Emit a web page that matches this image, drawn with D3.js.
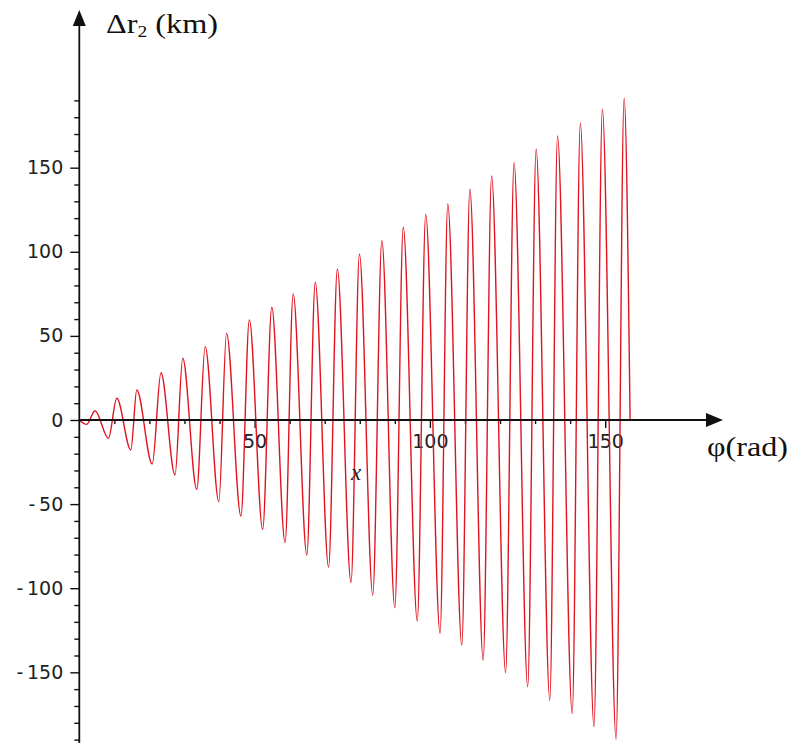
<!DOCTYPE html>
<html>
<head>
<meta charset="utf-8">
<script src="https://cdn.jsdelivr.net/npm/d3@7"></script>
<style>
  body { margin: 0; background: #fff; }
  svg { display: block; }
</style>
</head>
<body>
<script>
// extrema of the curve (phi in rad, dr in km)
var phiPts = [0, 2.1, 4.5, 8.3, 10.7, 14.7, 16.4, 20.8, 23.3, 27.3, 29.5,
  33.5, 35.9, 39.8, 42.0, 46.1, 48.5, 52.3, 54.9, 58.7, 61.0, 64.9, 67.3,
  71.1, 73.6, 77.5, 79.9, 83.7, 86.3, 90.0, 92.4, 96.4, 98.8, 102.9, 105.1,
  109.1, 111.4, 115.2, 117.6, 121.6, 124.0, 127.9, 130.3, 134.2, 136.4,
  140.6, 142.9, 146.8, 149.2, 153.1, 155.4, 157.1];
var drPts = [0, -2.6, 5.5, -10.9, 12.9, -17.8, 17.8, -26.2, 28.1, -32.7, 36.7,
  -41.2, 43.6, -48.6, 51.5, -57.1, 59.5, -65.0, 67.0, -72.9, 75.0, -80.3, 81.9,
  -87.6, 89.8, -96.7, 98.7, -104.0, 106.6, -111.6, 114.6, -119.5, 122.3, -126.8, 128.4,
  -133.8, 137.2, -142.7, 145.1, -150.2, 153.0, -158.6, 161.0, -166.5, 168.8,
  -174.4, 176.4, -182.3, 184.7, -189.8, 191.3, 0];

var xMajor = [50, 100, 150];
var xMinor = [10, 20, 30, 40, 60, 70, 80, 90, 110, 120, 130, 140];
var yMajor = [-150, -100, -50, 0, 50, 100, 150];
var yMinor = [-190, -180, -170, -160, -140, -130, -120, -110, -90, -80, -70, -60,
  -40, -30, -20, -10, 10, 20, 30, 40, 60, 70, 80, 90, 110, 120, 130, 140, 160, 170, 180, 190];

var width = 792;
var height = 743;

var svg = d3.select("body")
  .append("svg")
  .attr("width", width)
  .attr("height", height);

var x = d3.scaleLinear().domain([0, 150]).range([79.3, 605.2]);
var y = d3.scaleLinear().domain([-190, 190]).range([739.6, 100.4]);

var tickFont = "'DejaVu Sans', Verdana, sans-serif";
var serif = "'Liberation Serif', 'Times New Roman', serif";

// y axis ticks
svg.append("g")
  .attr("transform", "translate(" + x(0) + ",0)")
  .call(d3.axisLeft(y).tickValues(yMinor).tickSize(5).tickFormat(""))
  .call(function (g) { g.select(".domain").remove(); });

svg.append("g")
  .attr("transform", "translate(" + x(0) + ",0)")
  .call(d3.axisLeft(y).tickValues(yMajor).tickSize(9).tickPadding(7)
    .tickFormat(function (d) { return d < 0 ? "-\u2009" + Math.abs(d) : d; }))
  .call(function (g) { g.select(".domain").remove(); })
  .selectAll("text")
  .attr("font-family", tickFont)
  .attr("font-size", 19)
  .attr("fill", "#222");

// x axis ticks
svg.append("g")
  .attr("transform", "translate(0," + y(0) + ")")
  .call(d3.axisBottom(x).tickValues(xMinor).tickSize(4).tickFormat(""))
  .call(function (g) { g.select(".domain").remove(); });

svg.append("g")
  .attr("transform", "translate(0," + y(0) + ")")
  .call(d3.axisBottom(x).tickValues(xMajor).tickSize(8).tickPadding(7))
  .call(function (g) { g.select(".domain").remove(); })
  .selectAll("text")
  .attr("font-family", tickFont)
  .attr("font-size", 19)
  .attr("fill", "#222");

svg.selectAll(".tick line")
  .attr("stroke", "#111")
  .attr("stroke-width", 1.4);

// the curve
var pts = phiPts.map(function (p, i) { return [p, drPts[i]]; });

var line = d3.line()
  .x(function (d) { return x(d[0]); })
  .y(function (d) { return y(d[1]); })
  .curve(d3.curveMonotoneX);

svg.append("path")
  .datum(pts)
  .attr("d", line)
  .attr("fill", "none")
  .attr("stroke", "#e01420")
  .attr("stroke-width", 1.4);

// axis lines with arrows
svg.append("line")
  .attr("x1", x(0)).attr("y1", height)
  .attr("x2", x(0)).attr("y2", 24)
  .attr("stroke", "#111").attr("stroke-width", 1.8);

svg.append("path")
  .attr("d", "M" + x(0) + ",10 L" + (x(0) - 6.5) + ",26 L" + (x(0) + 6.5) + ",26 Z")
  .attr("fill", "#111");

svg.append("line")
  .attr("x1", x(0)).attr("y1", y(0))
  .attr("x2", 708).attr("y2", y(0))
  .attr("stroke", "#111").attr("stroke-width", 1.8);

svg.append("path")
  .attr("d", "M723," + y(0) + " L706," + (y(0) - 7) + " L706," + (y(0) + 7) + " Z")
  .attr("fill", "#111");

// axis titles
var yTitle = svg.append("text")
  .attr("x", 106)
  .attr("y", 33)
  .attr("font-family", serif)
  .attr("font-size", 28)
  .attr("fill", "#111")
  .attr("textLength", 112)
  .attr("lengthAdjust", "spacingAndGlyphs");
yTitle.append("tspan").text("\u0394r");
yTitle.append("tspan").attr("font-size", 17).attr("dy", 4).text("2");
yTitle.append("tspan").attr("dy", -4).text(" (km)");

svg.append("text")
  .attr("x", 707)
  .attr("y", 456)
  .attr("font-family", serif)
  .attr("font-size", 27)
  .attr("fill", "#111")
  .attr("textLength", 81)
  .attr("lengthAdjust", "spacingAndGlyphs")
  .text("\u03c6(rad)");

svg.append("text")
  .attr("x", 356)
  .attr("y", 480)
  .attr("text-anchor", "middle")
  .attr("font-family", serif)
  .attr("font-style", "italic")
  .attr("font-size", 23)
  .attr("fill", "#222")
  .text("x");
</script>
</body>
</html>
